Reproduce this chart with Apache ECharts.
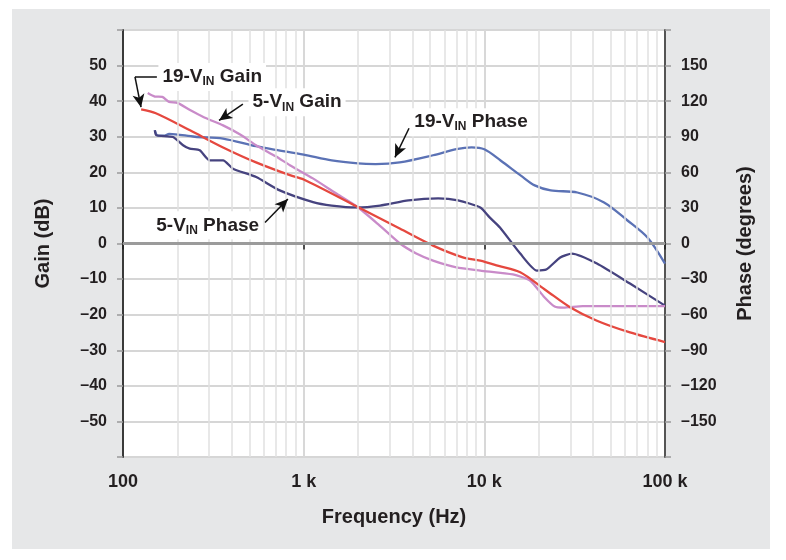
<!DOCTYPE html>
<html>
<head>
<meta charset="utf-8">
<script src="https://cdn.jsdelivr.net/npm/echarts@6/dist/echarts.min.js"></script>
<style>
  html, body { margin: 0; padding: 0; background: #ffffff; }
  #bg { position: absolute; left: 12px; top: 9px; width: 758px; height: 540px; background: #e6e7e8; }
  #chart { position: absolute; left: 0; top: 0; width: 786px; height: 560px; }
</style>
</head>
<body>
<div id="bg"></div>
<div id="chart"></div>
<script>
// ---------- data ----------
const freqTickValues = [100, 1000, 10000, 100000];
const freqTickLabels = ['100', '1 k', '10 k', '100 k'];
const minorFreqs = [200, 300, 400, 500, 600, 700, 800, 900,
                    2000, 3000, 4000, 5000, 6000, 7000, 8000, 9000,
                    20000, 30000, 40000, 50000, 60000, 70000, 80000, 90000];

// 19-V_IN gain (dB)
const gain19Freq = [126, 152, 235, 358, 545, 839, 1000, 1970, 3400, 5200, 7600, 9500, 12000, 15800, 22000, 29800, 42000, 64000, 100000];
const gain19Val  = [37.7, 36.6, 31.8, 27.0, 22.8, 19.2, 18.0, 10.4, 4.2, -0.6, -3.9, -4.8, -6.3, -8.1, -13.2, -17.9, -21.7, -25.0, -27.7];

// 5-V_IN gain (dB)
const gain5Freq = [137, 150, 165, 180, 200, 235, 280, 358, 450, 545, 700, 839, 1125, 1500, 1973, 2600, 3413, 4200, 5200, 7000, 9500, 14400, 17900, 21500, 24500, 27400, 35000, 100000];
const gain5Val  = [42.3, 41.3, 41.2, 39.8, 39.5, 37.5, 35.5, 33.2, 30.5, 27.6, 24.5, 22.0, 18.3, 14.2, 10.4, 5.3, 0.0, -2.8, -4.8, -6.7, -7.6, -8.7, -10.4, -15.1, -17.7, -18.0, -17.6, -17.6];

// 19-V_IN phase (degrees)
const phase19Freq = [150, 156, 170, 180, 250, 358, 545, 700, 1000, 1430, 2000, 2500, 3400, 5200, 7000, 8500, 10000, 12300, 16000, 19000, 23300, 32700, 46000, 62000, 80000, 100000];
const phase19Val  = [95.5, 91, 91, 92.5, 90, 88.5, 82, 79, 75, 70, 67.5, 67, 68.4, 74.4, 79.5, 81, 79.4, 70, 57, 49, 44.8, 43, 34.6, 19.4, 5, -17];

// 5-V_IN phase (degrees)
const phase5Freq = [150, 153, 189, 215, 234, 266, 302, 358, 406, 546, 737, 1127, 1430, 1970, 2650, 3800, 5550, 7150, 9500, 10700, 12200, 15800, 19500, 22000, 26300, 30500, 42000, 64000, 100000];
const phase5Val  = [95.5, 91.3, 89.8, 82.8, 80, 78.6, 70.1, 70.1, 63.1, 56, 44.8, 34.9, 32, 30.4, 32, 36.3, 38, 36.3, 30.4, 22, 13.5, -8.5, -22.8, -22, -11.8, -8.5, -16.9, -33.8, -52.4];

const pairs = (xs, ys) => xs.map((x, i) => [x, ys[i]]);

// ---------- styling ----------
const FONT = '"Liberation Sans", Arial, Helvetica, sans-serif';
const TXT = '#231f20';
const labelMap = {};
freqTickValues.forEach((v, i) => { labelMap[v] = freqTickLabels[i]; });

const sub = { fontSize: 12, fontWeight: 'bold', fontFamily: FONT, color: TXT, lineHeight: 10, verticalAlign: 'bottom' };
function annLabel(text, position) {
  return {
    show: true, position: position, distance: 0,
    formatter: text,
    fontSize: 19, fontWeight: 'bold', fontFamily: FONT, color: TXT,
    lineHeight: 22, backgroundColor: '#ffffff', padding: [3, 4, 3, 4],
    rich: { sub: sub }
  };
}
function seg(a, b, arrow) {
  return [
    { coord: a, symbol: 'none' },
    { coord: b, symbol: arrow ? 'arrow' : 'none', symbolSize: [9, 13] }
  ];
}
const titleStyle = { fontSize: 20, fontWeight: 'bold', color: TXT, fontFamily: FONT };

const option = {
  animation: false,
  textStyle: { fontFamily: FONT },
  grid: {
    left: 123, right: 121, top: 30, bottom: 103,
    show: true, backgroundColor: '#ffffff', borderColor: '#3a3a3a', borderWidth: 1.5
  },
  xAxis: {
    type: 'log', logBase: 10, min: 100, max: 100000,
    axisLine: { show: true, lineStyle: { color: '#1e1e1e', width: 2.5 } },
    axisTick: { show: true, length: 6, lineStyle: { color: '#1e1e1e', width: 1.5 } },
    axisLabel: {
      formatter: v => (labelMap[Math.round(v)] !== undefined ? labelMap[Math.round(v)] : ''),
      fontSize: 18, fontWeight: 'bold', color: TXT, fontFamily: FONT, margin: 16
    },
    splitLine: { show: true, lineStyle: { color: '#d8d8d8', width: 2 } },
    name: 'Frequency (Hz)', nameLocation: 'middle', nameGap: 50,
    nameTextStyle: titleStyle
  },
  yAxis: [
    {
      type: 'value', min: -60, max: 60, interval: 10, position: 'left',
      axisLine: { show: true, lineStyle: { color: '#3a3a3a', width: 2 } },
      axisTick: { show: true, length: 6, lineStyle: { color: '#9a9a9a', width: 1.5 } },
      axisLabel: {
        formatter: v => (Math.abs(v) >= 60 ? '' : (v < 0 ? '\u2013' + Math.abs(v) : String(v))),
        fontSize: 16, fontWeight: 'bold', color: TXT, fontFamily: FONT, margin: 16
      },
      splitLine: { show: true, lineStyle: { color: '#d6d6d6', width: 2 } },
      name: 'Gain (dB)', nameLocation: 'middle', nameGap: 70, nameRotate: 90,
      nameTextStyle: titleStyle
    },
    {
      type: 'value', min: -180, max: 180, interval: 30, position: 'right',
      axisLine: { show: true, lineStyle: { color: '#555555', width: 2 } },
      axisTick: { show: true, length: 6, lineStyle: { color: '#9a9a9a', width: 1.5 } },
      axisLabel: {
        formatter: v => (Math.abs(v) >= 180 ? '' : (v < 0 ? '\u2013' + Math.abs(v) : String(v))),
        fontSize: 16, fontWeight: 'bold', color: TXT, fontFamily: FONT, margin: 16
      },
      splitLine: { show: false },
      name: 'Phase (degrees)', nameLocation: 'middle', nameGap: 70, nameRotate: 90,
      nameTextStyle: titleStyle
    }
  ],
  series: [
    {
      type: 'line', z: 1, data: [[100, 0]], showSymbol: false, silent: true,
      lineStyle: { width: 0, opacity: 0 },
      markLine: {
        silent: true, symbol: 'none', animation: false,
        label: { show: false },
        lineStyle: { color: '#e0e0e0', width: 1.5, type: 'solid' },
        data: minorFreqs.map(f => ({ xAxis: f }))
          .concat([{ yAxis: 0, lineStyle: { color: '#9b9b9b', width: 3, type: 'solid' } }])
      }
    },
    {
      name: '19-V Phase', type: 'line', yAxisIndex: 1, z: 3,
      data: pairs(phase19Freq, phase19Val), showSymbol: false, smooth: 0.3,
      lineStyle: { color: '#5b72b5', width: 2.3 }
    },
    {
      name: '5-V Phase', type: 'line', yAxisIndex: 1, z: 3,
      data: pairs(phase5Freq, phase5Val), showSymbol: false, smooth: 0.2,
      lineStyle: { color: '#46437f', width: 2.3 }
    },
    {
      name: '5-V Gain', type: 'line', z: 3,
      data: pairs(gain5Freq, gain5Val), showSymbol: false, smooth: 0.2,
      lineStyle: { color: '#c98bc9', width: 2.3 }
    },
    {
      name: '19-V Gain', type: 'line', z: 4,
      data: pairs(gain19Freq, gain19Val), showSymbol: false, smooth: 0.3,
      lineStyle: { color: '#e5483f', width: 2.3 }
    },
    {
      type: 'line', z: 10, data: [[100, 0]], showSymbol: false, silent: true,
      lineStyle: { width: 0, opacity: 0 },
      markLine: {
        silent: true, animation: false, symbol: 'none',
        label: { show: false },
        lineStyle: { color: '#111111', width: 1.5, type: 'solid' },
        data: [
          seg([154, 46.8], [116.5, 46.8], false),
          seg([116.5, 46.8], [125.8, 38.3], true),
          seg([461, 39.2], [340, 34.6], true),
          seg([3830, 32.4], [3200, 24.2], true),
          seg([611, 5.9], [818, 12.5], true)
        ]
      },
      markPoint: {
        silent: true, animation: false,
        symbol: 'circle', symbolSize: 1, itemStyle: { color: 'rgba(0,0,0,0)' },
        data: [
          { coord: [156, 46.8], label: annLabel('19-V{sub|IN} Gain', 'right') },
          { coord: [492, 39.7], label: annLabel('5-V{sub|IN} Gain', 'right') },
          { coord: [3870, 34.1], label: annLabel('19-V{sub|IN} Phase', 'right') },
          { coord: [600, 5.1], label: annLabel('5-V{sub|IN} Phase', 'left') }
        ]
      }
    }
  ]
};

const chart = echarts.init(document.getElementById('chart'), null, { renderer: 'canvas' });
chart.setOption(option);
</script>
</body>
</html>
